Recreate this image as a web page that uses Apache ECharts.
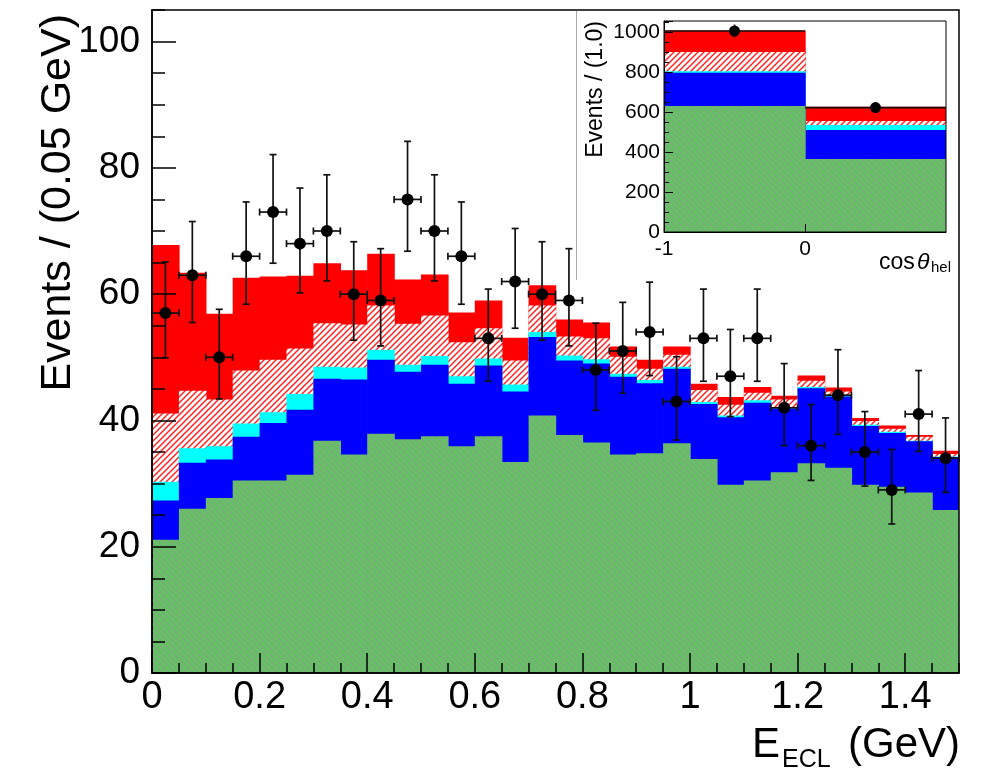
<!DOCTYPE html>
<html>
<head>
<meta charset="utf-8">
<script src="https://cdn.jsdelivr.net/npm/echarts@6/dist/echarts.min.js"></script>
<style>
html, body { margin: 0; padding: 0; background: #fff; }
#main { width: 982px; height: 768px; }
</style>
</head>
<body>
<div id="main"></div>
<script>
// E_ECL distribution: 30 bins of 0.05 GeV from 0 to 1.5
var binWidth = 0.05;
var nBins = 30;
var dataCounts = [57, 63, 50, 66, 73, 68, 70, 60, 59, 75, 70, 66, 53, 62, 60, 59, 48, 51, 54, 43, 53, 47, 53, 42, 36, 44, 35, 29, 41, 34];
var dataErrLow = [7.1, 7.5, 6.6, 7.6, 8.1, 7.8, 7.9, 7.3, 7.2, 8.2, 7.9, 7.6, 6.8, 7.4, 7.3, 7.2, 6.4, 6.7, 6.9, 6.1, 6.8, 6.4, 6.8, 6.0, 5.5, 6.2, 5.4, 5.4, 5.9, 5.4];
var dataErrHigh = [8.1, 8.5, 7.6, 8.6, 9.1, 8.8, 8.9, 8.3, 8.2, 9.2, 8.9, 8.6, 7.8, 8.4, 8.3, 8.2, 7.4, 7.7, 7.9, 7.1, 7.8, 7.4, 7.8, 7.0, 6.5, 7.2, 6.4, 6.4, 6.9, 6.4];
// stacked components (bottom to top)
var greenBkg = [21.1, 26.0, 27.7, 30.5, 30.5, 31.4, 36.8, 34.6, 37.9, 37.0, 37.5, 35.9, 37.5, 33.4, 40.8, 37.7, 36.5, 34.6, 34.8, 36.4, 33.9, 29.8, 30.5, 31.8, 33.2, 32.5, 29.8, 29.5, 28.6, 25.8];
var blueBkg = [6.2, 7.3, 6.1, 6.9, 9.1, 10.3, 9.8, 11.9, 11.7, 10.7, 11.3, 9.9, 11.2, 11.2, 12.4, 11.8, 12.5, 12.3, 11.1, 11.8, 8.7, 10.7, 12.3, 10.1, 11.9, 11.3, 9.3, 8.5, 8.1, 8.4];
var cyanBkg = [3.0, 2.3, 2.1, 2.1, 1.7, 2.5, 1.9, 1.9, 1.6, 1.1, 1.4, 1.2, 1.1, 1.1, 0.8, 0.8, 0.7, 0.5, 0.5, 0.3, 0.3, 0.3, 0.4, 0.2, 0.2, 0.2, 0.2, 0.2, 0.1, 0.1];
var hatchBkg = [10.8, 9.1, 7.4, 8.4, 8.3, 7.2, 6.9, 6.8, 7.0, 6.5, 6.4, 5.4, 4.8, 3.8, 4.2, 3.0, 3.3, 2.7, 1.8, 1.9, 1.9, 1.7, 1.2, 1.2, 1.0, 0.6, 0.6, 0.5, 0.6, 0.4];
var redSig = [26.7, 18.7, 13.6, 14.7, 13.2, 11.5, 9.5, 8.6, 8.2, 7.0, 6.5, 4.7, 4.4, 3.6, 3.2, 2.7, 2.5, 1.6, 1.4, 1.3, 1.0, 1.2, 0.9, 0.6, 0.8, 0.6, 0.5, 0.5, 0.3, 0.5];

// inset: cos(theta_hel), 2 bins
var helEdges = [-1, 0, 1];
var helCounts = [1005, 622];
var helErrLow = [31.2, 24.4];
var helErrHigh = [32.2, 25.4];
var helGreen = [630, 365];
var helBlue = [166, 145];
var helCyan = [8, 25];
var helHatch = [96, 20];
var helRed = [108, 71];

var mainEdges = [];
for (var i = 0; i <= nBins; i++) mainEdges.push(+(i * binWidth).toFixed(2));
var mainCenters = [];
for (var i = 0; i < nBins; i++) mainCenters.push(+((i + 0.5) * binWidth).toFixed(3));
var helCenters = [-0.5, 0.5];

var FONT = 'Liberation Sans';

function makePattern(bg, line, dir, lw) {
    var c = document.createElement('canvas');
    var s = 6;
    c.width = s; c.height = s;
    var ctx = c.getContext('2d');
    ctx.fillStyle = bg;
    ctx.fillRect(0, 0, s, s);
    ctx.strokeStyle = line;
    ctx.lineWidth = lw;
    ctx.beginPath();
    if (dir === 'down') {
        ctx.moveTo(-1, -1); ctx.lineTo(s + 1, s + 1);
        ctx.moveTo(-1, s - 1); ctx.lineTo(1, s + 1);
        ctx.moveTo(s - 1, -1); ctx.lineTo(s + 1, 1);
    } else {
        ctx.moveTo(-1, s + 1); ctx.lineTo(s + 1, -1);
        ctx.moveTo(-1, 1); ctx.lineTo(1, -1);
        ctx.moveTo(s - 1, s + 1); ctx.lineTo(s + 1, s - 1);
    }
    ctx.stroke();
    return { image: c, repeat: 'repeat' };
}
var greenFill = makePattern('#60c560', '#8e9a8e', 'down', 1.1);
var hatchFill = makePattern('#ffffff', '#ff2424', 'up', 1.5);

// running totals, bottom layer first
function cumulate(layers) {
    var run = layers[0].map(function () { return 0; });
    return layers.map(function (l) {
        run = run.map(function (v, i) { return v + l[i]; });
        return run.slice();
    });
}

// each layer is drawn from 0 up to its stacked top; upper layers are drawn first
function bars(edges, tops, fill, axis, z) {
    return {
        type: 'custom', xAxisIndex: axis, yAxisIndex: axis, z: z, silent: true, clip: true,
        data: tops.map(function (t, i) { return [edges[i], edges[i + 1], t]; }),
        encode: { x: [0, 1], y: 2 },
        renderItem: function (params, api) {
            var p0 = api.coord([api.value(0), 0]);
            var p1 = api.coord([api.value(1), api.value(2)]);
            return {
                type: 'rect',
                shape: { x: p0[0], y: p1[1], width: p1[0] - p0[0] + 0.7, height: p0[1] - p1[1] },
                style: { fill: fill }
            };
        }
    };
}

function points(xs, ys, lo, hi, half, axis, r, cap, z) {
    return {
        type: 'custom', xAxisIndex: axis, yAxisIndex: axis, z: z, silent: true,
        data: xs.map(function (x, i) { return [x, ys[i], lo[i], hi[i]]; }),
        encode: { x: 0, y: 1 },
        renderItem: function (params, api) {
            var x = api.value(0), y = api.value(1);
            var c = api.coord([x, y]);
            var top = api.coord([x, y + api.value(3)])[1];
            var bot = api.coord([x, y - api.value(2)])[1];
            var l = api.coord([x - half, y])[0];
            var rr = api.coord([x + half, y])[0];
            var st = { stroke: '#111', lineWidth: 1.7 };
            var kids = [
                { type: 'line', shape: { x1: c[0], y1: top, x2: c[0], y2: bot }, style: st },
                { type: 'line', shape: { x1: l, y1: c[1], x2: rr, y2: c[1] }, style: st }
            ];
            if (cap > 0) {
                kids.push({ type: 'line', shape: { x1: c[0] - cap, y1: top, x2: c[0] + cap, y2: top }, style: st });
                kids.push({ type: 'line', shape: { x1: c[0] - cap, y1: bot, x2: c[0] + cap, y2: bot }, style: st });
                kids.push({ type: 'line', shape: { x1: l, y1: c[1] - cap, x2: l, y2: c[1] + cap }, style: st });
                kids.push({ type: 'line', shape: { x1: rr, y1: c[1] - cap, x2: rr, y2: c[1] + cap }, style: st });
            }
            kids.push({ type: 'circle', shape: { cx: c[0], cy: c[1], r: r }, style: { fill: '#000' } });
            return { type: 'group', children: kids };
        }
    };
}

function numFmt(v) { return String(+(+v).toFixed(2)); }

function axisBase(grid, pos, min, max, interval, tickLen, lw, z, labels, fs, margin) {
    return {
        type: 'value', gridIndex: grid, position: pos, min: min, max: max, interval: interval, z: z,
        axisLine: { show: labels, onZero: false, lineStyle: { color: '#000', width: lw } },
        axisTick: { show: tickLen > 0, inside: true, length: tickLen, lineStyle: { color: '#000', width: lw } },
        axisLabel: {
            show: labels, fontSize: fs, fontFamily: FONT, color: '#000', margin: margin,
            showMaxLabel: false, formatter: numFmt
        },
        splitLine: { show: false }
    };
}

var mainTops = cumulate([greenBkg, blueBkg, cyanBkg, hatchBkg, redSig]);
var helTops = cumulate([helGreen, helBlue, helCyan, helHatch, helRed]);
var fills = [greenFill, '#0000ff', '#00ffff', hatchFill, '#ff0000'];

// plot frames; grid 1 repeats grid 0 to carry the minor ticks
var mainBox = { left: 152, top: 10, width: 807, height: 663 };
var helBox = { left: 664, top: 21, width: 282, height: 211 };

var series = [];
for (var k = 4; k >= 0; k--) series.push(bars(mainEdges, mainTops[k], fills[k], 0, 5 - k));
series.push(points(mainCenters, dataCounts, dataErrLow, dataErrHigh, binWidth / 2, 0, 6, 3.5, 6));
for (var k = 4; k >= 0; k--) series.push(bars(helEdges, helTops[k], fills[k], 2, 17 - k));
series.push(points(helCenters, helCounts, helErrLow, helErrHigh, 0.5, 2, 5.5, 0, 18));

var helY = axisBase(2, 'left', 0, 1055, 200, 9, 1, 20, true, 21, 4);
helY.minorTick = { show: true, splitNumber: 4, length: 5, lineStyle: { color: '#000', width: 1 } };

var chart = echarts.init(document.getElementById('main'));
chart.setOption({
    animation: false,
    backgroundColor: '#fff',
    grid: [
        { left: mainBox.left, top: mainBox.top, width: mainBox.width, height: mainBox.height },
        { left: mainBox.left, top: mainBox.top, width: mainBox.width, height: mainBox.height },
        { left: helBox.left, top: helBox.top, width: helBox.width, height: helBox.height,
          show: true, z: 20, borderColor: '#000', borderWidth: 1, backgroundColor: 'transparent' }
    ],
    xAxis: [
        axisBase(0, 'bottom', 0, 1.5, 0.2, 20, 1.5, 10, true, 38, 6),
        axisBase(1, 'bottom', 0, 1.5, 0.05, 10, 1.5, 10, false, 10, 0),
        axisBase(2, 'bottom', -1, 1, 1, 8, 1, 20, true, 21, 7)
    ],
    yAxis: [
        axisBase(0, 'left', 0, 105, 20, 24, 1.5, 10, true, 37, 12),
        axisBase(1, 'left', 0, 105, 5, 13, 1.5, 10, false, 10, 0),
        helY
    ],
    series: series,
    graphic: { elements: [
        { type: 'rect', z: 10, silent: true,
          shape: { x: mainBox.left, y: mainBox.top, width: mainBox.width, height: mainBox.height },
          style: { fill: 'none', stroke: '#000', lineWidth: 1.5 } },
        { type: 'rect', z: 11, silent: true, shape: { x: 576, y: 11, width: 381, height: 269 },
          style: { fill: '#fff', stroke: 'none' } },
        { type: 'line', z: 11, silent: true, shape: { x1: 576.5, y1: 11, x2: 576.5, y2: 280 },
          style: { stroke: '#aaa', lineWidth: 1 } },
        { type: 'text', z: 21, x: 58, y: 14, rotation: Math.PI / 2,
          style: { text: 'Events / (0.05 GeV)', font: '43px "Liberation Sans"', fill: '#000', align: 'right', verticalAlign: 'middle' } },
        { type: 'text', z: 21, x: 752, y: 766,
          style: { text: 'E', font: '42px "Liberation Sans"', fill: '#000', align: 'left', verticalAlign: 'bottom' } },
        { type: 'text', z: 21, x: 782, y: 748,
          style: { text: 'ECL', font: '25px "Liberation Sans"', fill: '#000', align: 'left', verticalAlign: 'top' } },
        { type: 'text', z: 21, x: 960, y: 766,
          style: { text: '(GeV)', font: '42px "Liberation Sans"', fill: '#000', align: 'right', verticalAlign: 'bottom' } },
        { type: 'text', z: 21, x: 596, y: 21, rotation: Math.PI / 2,
          style: { text: 'Events / (1.0)', font: '23px "Liberation Sans"', fill: '#000', align: 'right', verticalAlign: 'middle' } },
        { type: 'text', z: 21, x: 879, y: 274,
          style: { text: 'cos', font: '23px "Liberation Sans"', fill: '#000', align: 'left', verticalAlign: 'bottom' } },
        { type: 'text', z: 21, x: 917, y: 274,
          style: { text: 'θ', font: 'italic 23px "Liberation Sans"', fill: '#000', align: 'left', verticalAlign: 'bottom' } },
        { type: 'text', z: 21, x: 931, y: 275,
          style: { text: 'hel', font: '15px "Liberation Sans"', fill: '#000', align: 'left', verticalAlign: 'bottom' } }
    ] }
});
</script>
</body>
</html>
